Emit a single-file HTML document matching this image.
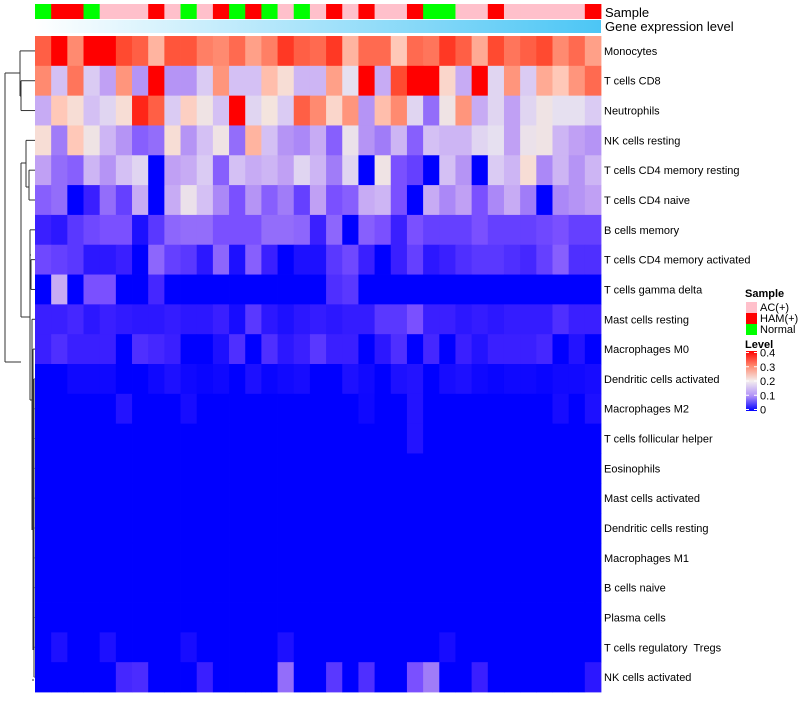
<!DOCTYPE html>
<html><head><meta charset="utf-8"><style>
body{margin:0;background:#fff;width:800px;height:700px;overflow:hidden;font-family:"Liberation Sans",sans-serif}
#rowLabels text{white-space:pre}
</style></head><body>
<svg id="chart" width="800" height="700" xmlns="http://www.w3.org/2000/svg" style="font-family:'Liberation Sans',sans-serif">
<defs>
<linearGradient id="geneGrad" x1="0" x2="1" y1="0" y2="0"><stop offset="0" stop-color="#ffffff"/><stop offset="1" stop-color="#4cc6f5"/></linearGradient>
<linearGradient id="levelGrad" x1="0" x2="0" y1="1" y2="0">
<stop offset="0" stop-color="#0000ff"/><stop offset="0.25" stop-color="#b090f8"/><stop offset="0.5" stop-color="#f4eeee"/><stop offset="0.75" stop-color="#ff8a70"/><stop offset="1" stop-color="#ff0000"/></linearGradient>
</defs>
<g id="dendro" stroke="#333" stroke-width="1" fill="none"></g>
<g id="sampleRow"></g>
<rect x="35" y="20" width="566" height="13" fill="url(#geneGrad)"/>
<text x="605" y="17" font-size="13">Sample</text>
<text x="605" y="31" font-size="13">Gene expression level</text>
<g id="cells"></g>
<g id="rowLabels" font-size="11"></g>
<g font-size="11">
<text x="745" y="297" font-weight="bold">Sample</text>
<rect x="746" y="302" width="11" height="11" fill="#ffc0cb"/>
<text x="760" y="311">AC(+)</text>
<rect x="746" y="313" width="11" height="11" fill="#ff0000"/>
<text x="760" y="322">HAM(+)</text>
<rect x="746" y="324" width="11" height="11" fill="#00ff00"/>
<text x="760" y="333">Normal</text>
<text x="745" y="348" font-weight="bold">Level</text>
<rect x="746" y="351" width="11" height="60" fill="url(#levelGrad)"/>
<g id="levelTicks"></g>
</g>
</svg>
<script>
const rowNames=["Monocytes","T cells CD8","Neutrophils","NK cells resting","T cells CD4 memory resting","T cells CD4 naive","B cells memory","T cells CD4 memory activated","T cells gamma delta","Mast cells resting","Macrophages M0","Dendritic cells activated","Macrophages M2","T cells follicular helper","Eosinophils","Mast cells activated","Dendritic cells resting","Macrophages M1","B cells naive","Plasma cells","T cells regulatory  Tregs","NK cells activated"];
const samples=["N","H","H","N","A","A","A","H","A","N","A","H","N","H","N","A","N","A","H","A","H","A","A","H","N","N","A","A","H","A","A","A","A","A","H"];
const levelTicks=[0,0.1,0.2,0.3,0.4];
const r0=[0.34,0.4,0.3,0.4,0.4,0.36,0.34,0.26,0.35,0.35,0.31,0.3,0.33,0.28,0.31,0.37,0.34,0.33,0.37,0.26,0.33,0.33,0.24,0.33,0.32,0.37,0.34,0.27,0.36,0.32,0.34,0.36,0.3,0.33,0.28];
const r1=[0.3,0.14,0.32,0.15,0.11,0.29,0.1,0.4,0.1,0.1,0.15,0.29,0.14,0.14,0.25,0.21,0.13,0.13,0.28,0.17,0.4,0.12,0.36,0.4,0.4,0.22,0.12,0.4,0.16,0.29,0.15,0.27,0.24,0.29,0.33];
const r2=[0.12,0.24,0.21,0.14,0.16,0.21,0.38,0.34,0.15,0.23,0.19,0.14,0.4,0.16,0.2,0.15,0.34,0.3,0.22,0.29,0.1,0.25,0.3,0.16,0.07,0.19,0.29,0.12,0.16,0.11,0.16,0.19,0.17,0.17,0.15];
const r3=[0.21,0.08,0.24,0.19,0.13,0.1,0.06,0.07,0.21,0.1,0.14,0.19,0.07,0.26,0.14,0.1,0.09,0.12,0.06,0.18,0.1,0.08,0.13,0.06,0.14,0.13,0.13,0.16,0.17,0.11,0.18,0.19,0.13,0.11,0.1];
const r4=[0.11,0.07,0.06,0.13,0.1,0.14,0.16,0,0.11,0.12,0.15,0.06,0.14,0.12,0.13,0.11,0.16,0.13,0.08,0.16,0,0.19,0.05,0.04,0,0.14,0.1,0,0.15,0.13,0.21,0.09,0.13,0.1,0.13];
const r5=[0.06,0.07,0,0.02,0.07,0.04,0.12,0,0.12,0.18,0.14,0.09,0.05,0.1,0.06,0.08,0.04,0.11,0.05,0.06,0.12,0.13,0.05,0,0.12,0.09,0.11,0.05,0.09,0.12,0.08,0,0.09,0.1,0.11];
const r6=[0.02,0.015,0.035,0.045,0.05,0.05,0.01,0.035,0.065,0.07,0.07,0.05,0.05,0.05,0.07,0.07,0.065,0.02,0.065,0,0.06,0.05,0.02,0.05,0.04,0.04,0.04,0.05,0.04,0.04,0.04,0.045,0.05,0.04,0.04];
const r7=[0.045,0.04,0.035,0.015,0.015,0.02,0,0.065,0.04,0.035,0.015,0.065,0.01,0.06,0.02,0,0.01,0.01,0.035,0.045,0.02,0,0.02,0.04,0.015,0.02,0.03,0.035,0.035,0.03,0.025,0.04,0.06,0.03,0.03];
const r8=[0,0.12,0,0.05,0.05,0,0,0.025,0,0,0,0,0,0,0,0,0,0,0.03,0.035,0,0,0,0,0,0,0,0,0,0,0,0,0,0,0];
const r9=[0.02,0.02,0.025,0.015,0.02,0.017,0.015,0.015,0.018,0.015,0.015,0.02,0.008,0.035,0.015,0.01,0.015,0.018,0.015,0.018,0.018,0.035,0.035,0.05,0.02,0.02,0.015,0.018,0.015,0.018,0.018,0.018,0.03,0.02,0.02];
const r10=[0.02,0.03,0.02,0.02,0.02,0,0.03,0.025,0.02,0,0,0.01,0.03,0,0.03,0.015,0.02,0.035,0.02,0.02,0,0.015,0.03,0,0.025,0,0.02,0.012,0.02,0.02,0.02,0.025,0,0.012,0];
const r11=[0,0,0.005,0.005,0.005,0,0,0.005,0.01,0.005,0.003,0.005,0,0.01,0.003,0.006,0.008,0,0,0.01,0.006,0,0.01,0.012,0,0.008,0.01,0.005,0.003,0.005,0.005,0.003,0.006,0.006,0.008];
const r12=[0,0,0,0,0,0.012,0,0,0,0.008,0,0,0,0,0,0,0,0,0,0,0.005,0,0,0.012,0,0,0,0,0,0,0,0,0.008,0,0.01];
const r13=[0,0,0,0,0,0,0,0,0,0,0,0,0,0,0,0,0,0,0,0,0,0,0,0.012,0,0,0,0,0,0,0,0,0,0,0];
const r14=[0,0,0,0,0,0,0,0,0,0,0,0,0,0,0,0,0,0,0,0,0,0,0,0,0,0,0,0,0,0,0,0,0,0,0];
const r15=[0,0,0,0,0,0,0,0,0,0,0,0,0,0,0,0,0,0,0,0,0,0,0,0,0,0,0,0,0,0,0,0,0,0,0];
const r16=[0,0,0,0,0,0,0,0,0,0,0,0,0,0,0,0,0,0,0,0,0,0,0,0,0,0,0,0,0,0,0,0,0,0,0];
const r17=[0,0,0,0,0,0,0,0,0,0,0,0,0,0,0,0,0,0,0,0,0,0,0,0,0,0,0,0,0,0,0,0,0,0,0];
const r18=[0,0,0,0,0,0,0,0,0,0,0,0,0,0,0,0,0,0,0,0,0,0,0,0,0,0,0,0,0,0,0,0,0,0,0];
const r19=[0,0,0,0,0,0,0,0,0,0,0,0,0,0,0,0,0,0,0,0,0,0,0,0,0,0,0,0,0,0,0,0,0,0,0];
const r20=[0,0.01,0,0,0.01,0,0,0,0,0.008,0,0,0,0,0,0.01,0,0,0,0,0,0,0,0,0,0.008,0,0,0,0,0,0,0,0,0];
const r21=[0,0,0,0,0,0.025,0.028,0,0,0,0.02,0,0,0,0,0.07,0,0,0.035,0,0.03,0,0,0.05,0.08,0,0,0.02,0,0,0,0,0,0,0.015];
const values=[r0,r1,r2,r3,r4,r5,r6,r7,r8,r9,r10,r11,r12,r13,r14,r15,r16,r17,r18,r19,r20,r21];

const NS="http://www.w3.org/2000/svg";
const X0=35,X1=601,Y0=36,Y1=692;
const nCol=samples.length,nRow=rowNames.length;
const cw=(X1-X0)/nCol,rh=(Y1-Y0)/nRow;
function xPos(c){return X0+c*cw;}
function yPos(r){return Y0+r*rh;}
const stops=[[0,[0,0,255]],[0.02,[58,31,255]],[0.05,[122,80,255]],[0.08,[160,124,248]],[0.11,[192,160,244]],[0.14,[212,192,244]],[0.17,[230,224,240]],[0.2,[244,228,222]],[0.24,[255,200,184]],[0.28,[255,160,136]],[0.3,[255,138,112]],[0.33,[255,106,80]],[0.36,[255,74,48]],[0.4,[255,0,0]]];
function colorOf(v){v=Math.max(0,Math.min(0.4,v));
for(let i=1;i<stops.length;i++){if(v<=stops[i][0]){const a=stops[i-1],b=stops[i];const t=(v-a[0])/(b[0]-a[0]);
return "rgb("+a[1].map((x,k)=>Math.round(x+(b[1][k]-x)*t)).join(",")+")";}}return "rgb(255,0,0)";}
const sampleColor={A:"#ffc0cb",H:"#ff0000",N:"#00ff00"};
function mk(tag,attrs,parent){const e=document.createElementNS(NS,tag);for(const k in attrs)e.setAttribute(k,attrs[k]);parent.appendChild(e);return e;}

const sg=document.getElementById("sampleRow");
samples.forEach((s,c)=>{const r=mk("rect",{x:xPos(c),y:4,width:cw+0.4,height:15,fill:sampleColor[s]},sg);

});

const cg=document.getElementById("cells");
values.forEach((row,r)=>row.forEach((v,c)=>{const e=mk("rect",{x:xPos(c),y:yPos(r),width:cw+0.4,height:rh+0.4,fill:colorOf(v)},cg);

}));

const lg=document.getElementById("rowLabels");
rowNames.forEach((n,r)=>{const t=mk("text",{x:604,y:yPos(r)+rh/2+4},lg);t.textContent=n;

});

const tg=document.getElementById("levelTicks");
levelTicks.forEach(v=>{const y=411-(v/0.4)*57-1.5;
mk("line",{x1:746,x2:749,y1:y,y2:y,stroke:"#fff"},tg);mk("line",{x1:754,x2:757,y1:y,y2:y,stroke:"#fff"},tg);
const t=mk("text",{x:760,y:y+4,"font-size":11},tg);t.textContent=v===0?"0":String(v);

});

const dg=document.getElementById("dendro");
const rc=r=>yPos(r)+rh/2;
const segs=[
[5,73,5,362],[5,73,20,73],[20,rc(0),20,96],[20,rc(0),35,rc(0)],[20,96,21,96],[21,rc(1),21,rc(2)],[21,rc(1),35,rc(1)],[21,rc(2),35,rc(2)],
[5,362,21,362],[21,163,21,317],[21,163,26,163],[26,rc(3),26,187],[26,rc(3),35,rc(3)],[26,187,29,187],[29,rc(4),29,rc(5)],[29,rc(4),35,rc(4)],[29,rc(5),35,rc(5)],
[21,317,30,317],[30,rc(6),30,400],[30,rc(6),35,rc(6)],[31,rc(7),31,rc(8)],[30,255,31,255],[31,rc(7),35,rc(7)],[31,rc(8),35,rc(8)],
[30,400,32,400],[32,rc(9),32,530],[32,rc(9),35,rc(9)],[33,rc(10),33,650],[32,350,33,350],[33,rc(10),35,rc(10)],
[34,rc(11),34,rc(21)],[33,500,34,500],[32,680,34,680]];
segs.forEach(s=>{mk("line",{x1:s[0],y1:s[1],x2:s[2],y2:s[3]},dg);});
for(let r=11;r<22;r++){mk("line",{x1:34,y1:rc(r),x2:35,y2:rc(r),stroke:"#666"},dg);}
</script>
</body></html>
